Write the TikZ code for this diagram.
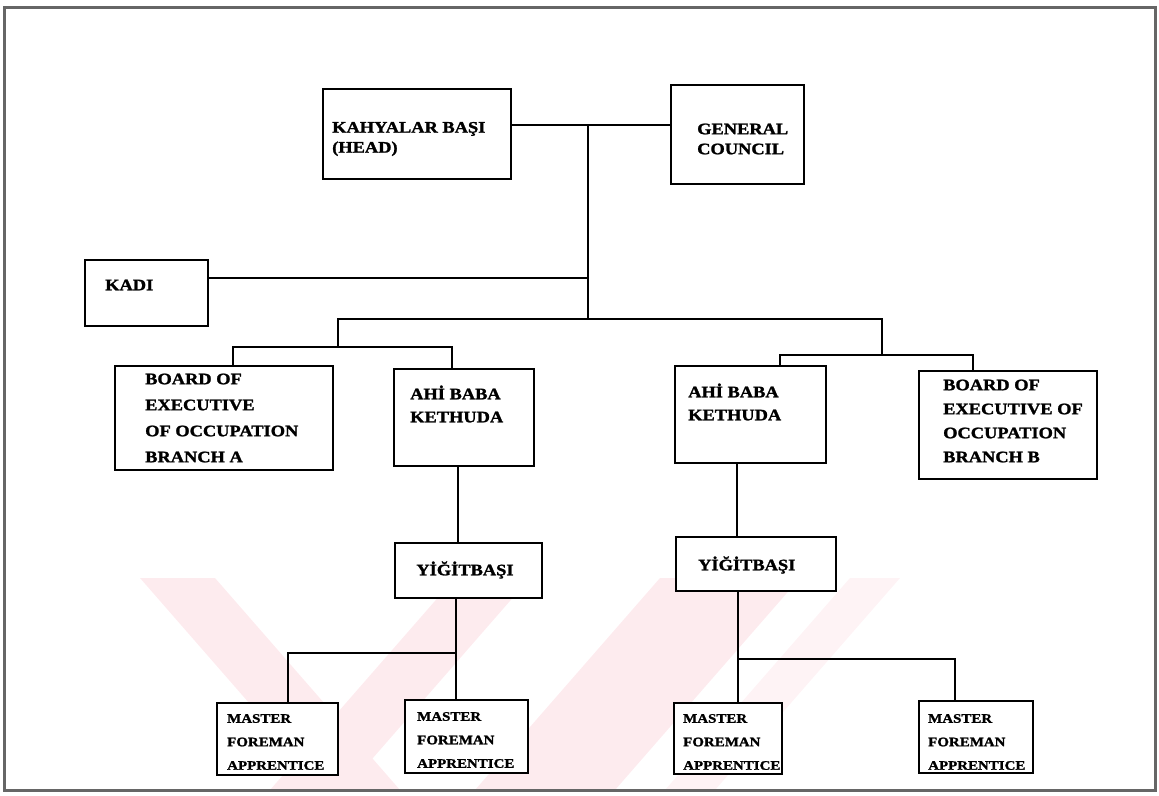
\documentclass[tikz,border=0pt]{standalone}
\usepackage{fontspec}
\setmainfont{Liberation Serif}[FakeStretch=1.15, BoldFeatures={FakeBold=1.5}]
\definecolor{wmark}{RGB}{253,235,238}
\begin{document}
\begin{tikzpicture}[x=1pt,y=-1pt,
  box/.style={draw, fill=white, line width=2pt, inner sep=0pt, anchor=north west},
  txt/.style={anchor=west, align=left, inner sep=0pt, font=\bfseries\fontsize{16}{20}\selectfont},
  txtb/.style={txt, font=\bfseries\fontsize{16}{26}\selectfont},
  txtm/.style={txt, font=\bfseries\fontsize{13}{23.5}\selectfont},
  conn/.style={line width=2pt},
  frame/.style={draw=black!60, line width=3pt},
  band/.style={fill=wmark, draw=none}]
\useasboundingbox (0,0) rectangle (1159,795);
% faint watermark bands
\begin{scope}
\clip (6,578) rectangle (1153,788);
\fill[band] (140,578) -- (215,578) -- (400,790) -- (325,790) -- cycle;
\fill[band] (455,578) -- (530,578) -- (345,790) -- (270,790) -- cycle;
\fill[band] (660,578) -- (800,578) -- (615,790) -- (475,790) -- cycle;
\fill[band, fill=wmark!60] (850,578) -- (900,578) -- (715,790) -- (665,790) -- cycle;
\end{scope}
\draw[frame] (4,7) rectangle (1155,790);
% boxes
\node[box, minimum width=188pt, minimum height=90pt] (head) at (322,88) {};
\node[box, minimum width=133pt, minimum height=99pt] (council) at (670,84) {};
\node[box, minimum width=123pt, minimum height=66pt] (kadi) at (84,259) {};
\node[box, minimum width=218pt, minimum height=104pt] (boardA) at (114,365) {};
\node[box, minimum width=140pt, minimum height=97pt] (ahiL) at (393,368) {};
\node[box, minimum width=151pt, minimum height=97pt] (ahiR) at (674,365) {};
\node[box, minimum width=178pt, minimum height=108pt] (boardB) at (918,370) {};
\node[box, minimum width=147pt, minimum height=55pt] (yigL) at (394,542) {};
\node[box, minimum width=160pt, minimum height=54pt] (yigR) at (675,536) {};
\node[box, minimum width=121pt, minimum height=72pt] (m1) at (216,702) {};
\node[box, minimum width=123pt, minimum height=73pt] (m2) at (404,699) {};
\node[box, minimum width=108pt, minimum height=71pt] (m3) at (673,702) {};
\node[box, minimum width=114pt, minimum height=72pt] (m4) at (918,700) {};
% texts
\node[txt] (headT) at (332,139) {KAHYALAR BAŞI\\(HEAD)};
\node[txt] (councilT) at (697,139) {GENERAL\\COUNCIL};
\node[txt] (kadiT) at (105,285) {KADI};
\node[txtb] (boardAT) at (145,418) {BOARD OF\\EXECUTIVE\\OF OCCUPATION\\BRANCH A};
\node[txt, font=\bfseries\fontsize{16}{23}\selectfont] (ahiLT) at (410,404) {AHİ BABA\\KETHUDA};
\node[txt, font=\bfseries\fontsize{16}{23}\selectfont] (ahiRT) at (688,402) {AHİ BABA\\KETHUDA};
\node[txt, font=\bfseries\fontsize{16}{24}\selectfont] (boardBT) at (943,421) {BOARD OF\\EXECUTIVE OF\\OCCUPATION\\BRANCH B};
\node[txt, anchor=center] (yigLT) at (465,570) {YİĞİTBAŞI};
\node[txt] (yigRT) at (698,565) {YİĞİTBAŞI};
\node[txtm] (m1T) at (227,742) {MASTER\\FOREMAN\\APPRENTICE};
\node[txtm] (m2T) at (417,740) {MASTER\\FOREMAN\\APPRENTICE};
\node[txtm] (m3T) at (683,742) {MASTER\\FOREMAN\\APPRENTICE};
\node[txtm] (m4T) at (928,742) {MASTER\\FOREMAN\\APPRENTICE};
% junctions
\coordinate (j1) at (588,125);
\coordinate (j2) at (588,319);
\coordinate (kj) at (588,278);
\coordinate (la) at (338,319);
\coordinate (lb) at (338,347);
\coordinate (lA) at (233,347);
\coordinate (lB) at (452,347);
\coordinate (ra) at (882,319);
\coordinate (rb) at (882,355);
\coordinate (rA) at (780,355);
\coordinate (rB) at (973,355);
\coordinate (yl) at (458,0);
\coordinate (yr) at (737,0);
\coordinate (mlA) at (288,653);
\coordinate (mlB) at (456,653);
\coordinate (mrA) at (738,659);
\coordinate (mrB) at (955,659);
% connectors
\draw[conn] (head.east |- j1) -- (council.west |- j1);
\draw[conn] (j1) -- (j2);
\draw[conn] (kadi.east |- kj) -- (kj);
\draw[conn] (j2) -- (la) -- (lb);
\draw[conn] (boardA.north -| lA) -- (lA) -- (lB) -- (ahiL.north -| lB);
\draw[conn] (j2) -- (ra) -- (rb);
\draw[conn] (ahiR.north -| rA) -- (rA) -- (rB) -- (boardB.north -| rB);
\draw[conn] (ahiL.south -| yl) -- (yigL.north -| yl);
\draw[conn] (ahiR.south -| yr) -- (yigR.north -| yr);
\draw[conn] (yigL.south -| mlB) -- (m2.north -| mlB);
\draw[conn] (m1.north -| mlA) -- (mlA) -- (mlB);
\draw[conn] (yigR.south -| mrA) -- (m3.north -| mrA);
\draw[conn] (mrA) -- (mrB) -- (m4.north -| mrB);
\end{tikzpicture}
\end{document}
